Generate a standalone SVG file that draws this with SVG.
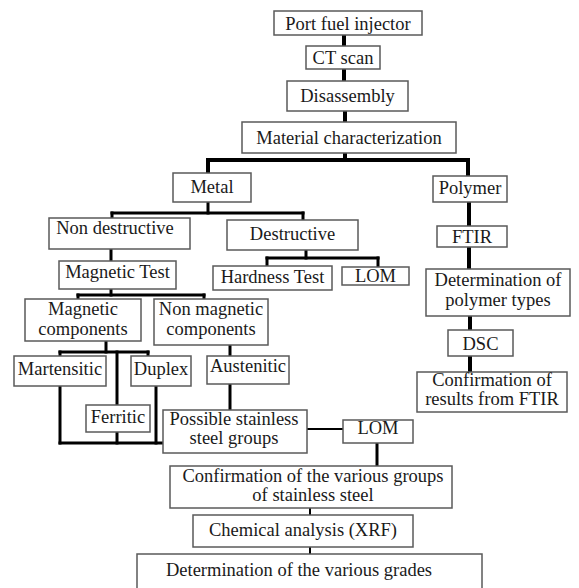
<svg xmlns="http://www.w3.org/2000/svg" width="579" height="588" viewBox="0 0 579 588">
<style>
  rect { fill: #fff; stroke: #5a5a5a; stroke-width: 1.5; }
  text { font-family: "Liberation Serif", "Times New Roman", serif; font-size: 18.5px; fill: #1a1a1a; text-anchor: middle; }
  .c line { stroke: #000; stroke-width: 3; stroke-linecap: square; }
  .c .t { stroke-width: 4; }
  .c .s { stroke-width: 2; }
</style>
<rect x="0" y="0" width="579" height="588" style="fill:#fff;stroke:none"/>
<g class="c" id="connectors">
  <line class="t" x1="344" y1="35" x2="344" y2="46"/>
  <line class="t" x1="344" y1="69" x2="344" y2="81"/>
  <line class="t" x1="345" y1="111" x2="345" y2="122"/>
  <line class="t" x1="345" y1="153" x2="345" y2="160"/>
  <line class="t" x1="208" y1="160" x2="468" y2="160"/>
  <line class="t" x1="208" y1="160" x2="208" y2="173"/>
  <line class="t" x1="468" y1="160" x2="468" y2="176"/>
  <line x1="208" y1="202" x2="208" y2="213"/>
  <line x1="112" y1="213" x2="303" y2="213"/>
  <line x1="112" y1="213" x2="112" y2="218"/>
  <line x1="303" y1="213" x2="303" y2="220"/>
  <line class="t" x1="469" y1="202" x2="469" y2="226"/>
  <line class="t" x1="469" y1="247" x2="469" y2="269"/>
  <line x1="111" y1="249" x2="111" y2="261"/>
  <line x1="306" y1="250" x2="306" y2="258"/>
  <line x1="267" y1="258" x2="378" y2="258"/>
  <line x1="267" y1="258" x2="267" y2="266"/>
  <line x1="378" y1="258" x2="378" y2="267"/>
  <line x1="111" y1="289" x2="111" y2="295"/>
  <line x1="78" y1="295" x2="204" y2="295"/>
  <line x1="78" y1="295" x2="78" y2="299"/>
  <line x1="204" y1="295" x2="204" y2="299"/>
  <line x1="106" y1="341" x2="106" y2="352"/>
  <line x1="60" y1="352" x2="148" y2="352"/>
  <line x1="60" y1="352" x2="60" y2="356"/>
  <line x1="148" y1="352" x2="148" y2="356"/>
  <line x1="117" y1="352" x2="117" y2="405"/>
  <line x1="230" y1="345" x2="230" y2="356"/>
  <line x1="230" y1="384" x2="230" y2="410"/>
  <line x1="60" y1="386" x2="60" y2="443"/>
  <line x1="156" y1="386" x2="156" y2="443"/>
  <line x1="117" y1="432" x2="117" y2="443"/>
  <line x1="60" y1="443" x2="163" y2="443"/>
  <line class="t" x1="470" y1="316" x2="470" y2="330"/>
  <line class="t" x1="470" y1="356" x2="470" y2="372"/>
  <line class="s" x1="307" y1="429" x2="343" y2="429"/>
  <line x1="377" y1="443" x2="377" y2="466"/>
  <line class="s" x1="310" y1="508" x2="310" y2="515"/>
  <line class="s" x1="310" y1="547" x2="310" y2="554"/>
</g>
<g id="n-port"><rect x="274" y="11" width="148" height="24"/><text x="348" y="30">Port fuel injector</text></g>
<g id="n-ct"><rect x="306" y="46" width="74" height="23"/><text x="343" y="64">CT scan</text></g>
<g id="n-disassembly"><rect x="287" y="81" width="121" height="30"/><text x="347.5" y="102">Disassembly</text></g>
<g id="n-material"><rect x="242" y="122" width="214" height="31"/><text x="349" y="144">Material characterization</text></g>
<g id="n-metal"><rect x="173" y="173" width="78" height="29"/><text x="212" y="193">Metal</text></g>
<g id="n-polymer"><rect x="433" y="176" width="74" height="26"/><text x="470" y="194">Polymer</text></g>
<g id="n-nondestructive"><rect x="49" y="218" width="141" height="31"/><text x="115" y="234">Non destructive</text></g>
<g id="n-destructive"><rect x="227" y="220" width="131" height="30"/><text x="292.5" y="240">Destructive</text></g>
<g id="n-ftir"><rect x="437" y="226" width="70" height="21"/><text x="472" y="243">FTIR</text></g>
<g id="n-magtest"><rect x="59" y="261" width="117" height="28"/><text x="117.5" y="278">Magnetic Test</text></g>
<g id="n-hardness"><rect x="213" y="266" width="119" height="24"/><text x="272.5" y="283">Hardness Test</text></g>
<g id="n-lom1"><rect x="342" y="267" width="67" height="18"/><text x="375.5" y="282">LOM</text></g>
<g id="n-polytypes"><rect x="426" y="269" width="144" height="47"/><text x="498" y="286">Determination of</text><text x="498" y="306">polymer types</text></g>
<g id="n-magcomp"><rect x="25" y="299" width="116" height="42"/><text x="83" y="315">Magnetic</text><text x="83" y="335">components</text></g>
<g id="n-nonmagcomp"><rect x="154" y="299" width="114" height="46"/><text x="211" y="315">Non magnetic</text><text x="211" y="335">components</text></g>
<g id="n-martensitic"><rect x="14" y="356" width="92" height="30"/><text x="60" y="375">Martensitic</text></g>
<g id="n-duplex"><rect x="131" y="356" width="60" height="30"/><text x="161" y="375">Duplex</text></g>
<g id="n-austenitic"><rect x="207" y="356" width="82" height="28"/><text x="248" y="372">Austenitic</text></g>
<g id="n-dsc"><rect x="448" y="330" width="65" height="26"/><text x="480.5" y="350">DSC</text></g>
<g id="n-confftir"><rect x="417" y="372" width="150" height="40"/><text x="492" y="386">Confirmation of</text><text x="492" y="405">results from FTIR</text></g>
<g id="n-ferritic"><rect x="86" y="405" width="64" height="27"/><text x="118" y="423">Ferritic</text></g>
<g id="n-possible"><rect x="163" y="410" width="144" height="43"/><text x="234" y="425">Possible stainless</text><text x="234" y="444">steel groups</text></g>
<g id="n-lom2"><rect x="343" y="420" width="70" height="23"/><text x="378" y="434">LOM</text></g>
<g id="n-confgroups"><rect x="170" y="466" width="282" height="42"/><text x="313" y="482">Confirmation of the various groups</text><text x="313" y="501">of stainless steel</text></g>
<g id="n-xrf"><rect x="193" y="515" width="220" height="32"/><text x="303" y="536">Chemical analysis (XRF)</text></g>
<g id="n-grades"><rect x="137" y="554" width="345" height="40"/><text x="299" y="576">Determination of the various grades</text></g>
</svg>
